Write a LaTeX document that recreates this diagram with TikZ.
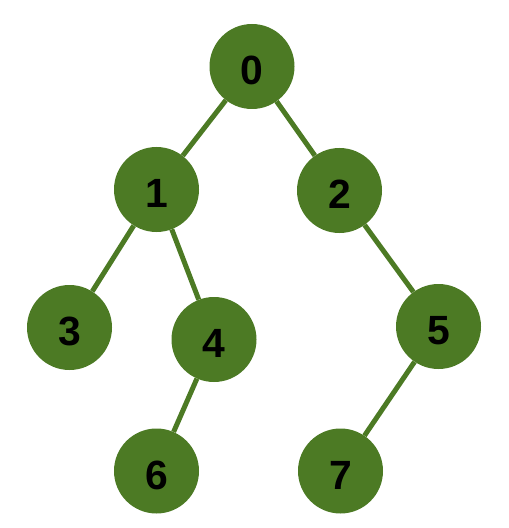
\documentclass[tikz,border=0pt]{standalone}
\usepackage{fontspec}
\setmainfont{Liberation Sans}
\usepackage{tikz}

\definecolor{leafgreen}{HTML}{4C7A24}

\begin{document}
\begin{tikzpicture}[x=1bp,y=-1bp,
  vertex/.style={fill=leafgreen, circle, minimum size=85bp, inner sep=0pt,
    text height=36.4bp, text depth=0pt,
    font=\fontsize{41}{43}\selectfont\bfseries},
  edge/.style={draw=leafgreen, line width=5bp}]
\useasboundingbox (0,0) rectangle (509,528);
\node[vertex] (n0) at (252,66.5) {0};
\node[vertex] (n1) at (156.5,189.5) {1};
\node[vertex] (n2) at (339.5,190.5) {2};
\node[vertex] (n3) at (69.5,327.5) {3};
\node[vertex] (n4) at (214,339.5) {4};
\node[vertex] (n5) at (438.5,326.5) {5};
\node[vertex] (n6) at (156.5,471) {6};
\node[vertex] (n7) at (340.5,471) {7};
\draw[edge] (n0) -- (n1);
\draw[edge] (n0) -- (n2);
\draw[edge] (n1) -- (n3);
\draw[edge] (n1) -- (n4);
\draw[edge] (n2) -- (n5);
\draw[edge] (n4) -- (n6);
\draw[edge] (n5) -- (n7);
\end{tikzpicture}
\end{document}
